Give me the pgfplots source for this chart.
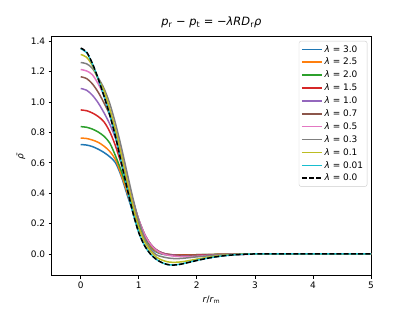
\documentclass[border=0pt]{standalone}
\usepackage{pgfplots}
\pgfplotsset{compat=1.18}
\usepackage{fontspec}
\setmainfont{DejaVu Sans}
\definecolor{c0}{HTML}{1F77B4}
\definecolor{c1}{HTML}{FF7F0E}
\definecolor{c2}{HTML}{2CA02C}
\definecolor{c3}{HTML}{D62728}
\definecolor{c4}{HTML}{9467BD}
\definecolor{c5}{HTML}{8C564B}
\definecolor{c6}{HTML}{E377C2}
\definecolor{c7}{HTML}{7F7F7F}
\definecolor{c8}{HTML}{BCBD22}
\definecolor{c9}{HTML}{17BECF}
\begin{document}
\begin{tikzpicture}
\useasboundingbox (-51.7bp,-34.3bp) rectangle (361.3bp,275.7bp);
\begin{axis}[
  scale only axis, width=319.3bp, height=239bp,
  at={(0,0)}, anchor=south west,
  xmin=-0.5, xmax=5, ymin=-0.143, ymax=1.43,
  xtick={0,1,2,3,4,5},
  ytick={0,0.2,0.4,0.6,0.8,1.0,1.2,1.4},
  yticklabel style={/pgf/number format/.cd, fixed, fixed zerofill, precision=1},
  /pgf/number format/assume math mode=true,
  ticklabel style={font=\fontsize{9}{10}\selectfont},
  tick pos=left, tick align=outside, major tick length=3.1bp,
  every tick/.style={black, line width=0.7bp},
  axis line style={line width=0.7bp},
  title={\textit{p}\textsubscript{r} − \textit{p}\textsubscript{t} = −\textit{λRD}\textsubscript{r}\textit{ρ}},
  title style={at={(axis description cs:0.5,1)}, anchor=base, yshift=5.4bp, font=\fontsize{11.5}{13}\selectfont},
  xlabel={\textit{r}/\textit{r}\textsubscript{m}},
  xlabel style={at={(axis description cs:0.5,0)}, anchor=center, yshift=-24.5bp, font=\fontsize{9}{10}\selectfont},
  ylabel={\textit{ρ̄}},
  ylabel style={at={(axis description cs:0,0.5)}, anchor=center, yshift=30.7bp, font=\fontsize{9}{10}\selectfont},
  legend style={at={(1,1)}, anchor=north east, xshift=-3.7bp, yshift=-4.3bp,
    draw=black!20, rounded corners=2bp, fill=white,
    font=\fontsize{9}{10}\selectfont, row sep=0.6bp, inner sep=2bp},
  legend cell align=left,
  legend image code/.code={\draw[#1, line width=1.6bp] (0bp,0bp) -- (20bp,0bp);},
  every axis plot/.append style={line width=1.5bp, smooth},
]
\addplot[c0] coordinates {(0,0.72)(0.1,0.717)(0.2,0.707)(0.3,0.69)(0.4,0.668)(0.5,0.64)(0.6,0.60)(0.7,0.51)(0.8,0.39)(0.9,0.275)(1.0,0.17)(1.1,0.095)(1.2,0.043)(1.3,0.013)(1.4,-0.001)(1.5,-0.006)(1.6,-0.007)(1.7,-0.007)(1.8,-0.006)(1.9,-0.006)(2.0,-0.005)(2.2,-0.004)(2.4,-0.003)(2.6,-0.002)(2.8,-0.001)(3.0,0)(3.5,0)(4,0)(4.5,0)(5,0)};
\addlegendentry{\textit{λ} = 3.0}
\addplot[c1] coordinates {(0,0.763)(0.1,0.76)(0.2,0.75)(0.3,0.735)(0.4,0.71)(0.5,0.675)(0.6,0.62)(0.7,0.52)(0.8,0.405)(0.9,0.29)(1.0,0.185)(1.1,0.105)(1.2,0.05)(1.3,0.018)(1.4,0.002)(1.5,-0.004)(1.6,-0.006)(1.7,-0.006)(1.8,-0.006)(1.9,-0.006)(2.0,-0.005)(2.2,-0.004)(2.4,-0.003)(2.6,-0.002)(2.8,-0.001)(3.0,0)(3.5,0)(4,0)(4.5,0)(5,0)};
\addlegendentry{\textit{λ} = 2.5}
\addplot[c2] coordinates {(0,0.838)(0.1,0.834)(0.2,0.822)(0.3,0.803)(0.4,0.775)(0.5,0.73)(0.6,0.645)(0.7,0.545)(0.8,0.43)(0.9,0.31)(1.0,0.2)(1.1,0.115)(1.2,0.058)(1.3,0.023)(1.4,0.005)(1.5,-0.003)(1.6,-0.006)(1.7,-0.007)(1.8,-0.007)(1.9,-0.007)(2.0,-0.006)(2.2,-0.004)(2.4,-0.003)(2.6,-0.002)(2.8,-0.001)(3.0,0)(3.5,0)(4,0)(4.5,0)(5,0)};
\addlegendentry{\textit{λ} = 2.0}
\addplot[c3] coordinates {(0,0.948)(0.1,0.943)(0.2,0.928)(0.3,0.905)(0.4,0.87)(0.5,0.805)(0.6,0.71)(0.7,0.59)(0.8,0.46)(0.9,0.33)(1.0,0.215)(1.1,0.125)(1.2,0.065)(1.3,0.028)(1.4,0.008)(1.5,-0.002)(1.6,-0.006)(1.7,-0.008)(1.8,-0.008)(1.9,-0.008)(2.0,-0.007)(2.2,-0.005)(2.4,-0.003)(2.6,-0.002)(2.8,-0.001)(3.0,0)(3.5,0)(4,0)(4.5,0)(5,0)};
\addlegendentry{\textit{λ} = 1.5}
\addplot[c4] coordinates {(0,1.089)(0.1,1.078)(0.2,1.045)(0.3,0.995)(0.4,0.93)(0.5,0.855)(0.6,0.76)(0.7,0.645)(0.8,0.495)(0.9,0.35)(1.0,0.225)(1.1,0.13)(1.2,0.067)(1.3,0.028)(1.4,0.007)(1.5,-0.003)(1.6,-0.008)(1.7,-0.011)(1.8,-0.012)(1.9,-0.011)(2.0,-0.01)(2.2,-0.008)(2.4,-0.005)(2.6,-0.003)(2.8,-0.002)(3.0,-0.001)(3.5,0)(4,0)(4.5,0)(5,0)};
\addlegendentry{\textit{λ} = 1.0}
\addplot[c5] coordinates {(0,1.166)(0.1,1.155)(0.2,1.12)(0.3,1.065)(0.4,0.995)(0.5,0.915)(0.6,0.805)(0.7,0.66)(0.8,0.50)(0.9,0.35)(1.0,0.225)(1.1,0.13)(1.2,0.066)(1.3,0.027)(1.4,0.006)(1.5,-0.005)(1.6,-0.01)(1.7,-0.013)(1.8,-0.014)(1.9,-0.013)(2.0,-0.012)(2.2,-0.009)(2.4,-0.006)(2.6,-0.004)(2.8,-0.002)(3.0,-0.001)(3.5,0)(4,0)(4.5,0)(5,0)};
\addlegendentry{\textit{λ} = 0.7}
\addplot[c6] coordinates {(0,1.214)(0.1,1.205)(0.2,1.18)(0.3,1.12)(0.4,1.045)(0.5,0.95)(0.6,0.815)(0.7,0.665)(0.8,0.50)(0.9,0.35)(1.0,0.225)(1.1,0.13)(1.2,0.065)(1.3,0.025)(1.4,0.003)(1.5,-0.008)(1.6,-0.014)(1.7,-0.017)(1.8,-0.018)(1.9,-0.017)(2.0,-0.015)(2.2,-0.011)(2.4,-0.008)(2.6,-0.005)(2.8,-0.003)(3.0,-0.001)(3.5,0)(4,0)(4.5,0)(5,0)};
\addlegendentry{\textit{λ} = 0.5}
\addplot[c7] coordinates {(0,1.26)(0.1,1.252)(0.2,1.222)(0.3,1.16)(0.4,1.09)(0.5,0.99)(0.6,0.857)(0.7,0.702)(0.8,0.532)(0.9,0.366)(1.0,0.218)(1.1,0.106)(1.2,0.033)(1.3,-0.005)(1.4,-0.018)(1.5,-0.026)(1.6,-0.03)(1.7,-0.03)(1.8,-0.027)(1.9,-0.023)(2.0,-0.019)(2.2,-0.012)(2.4,-0.007)(2.6,-0.003)(2.8,-0.001)(3.0,0)(3.5,0)(4,0)(4.5,0)(5,0)};
\addlegendentry{\textit{λ} = 0.3}
\addplot[c8] coordinates {(0,1.313)(0.1,1.295)(0.2,1.24)(0.3,1.15)(0.4,1.075)(0.5,0.953)(0.6,0.815)(0.7,0.652)(0.8,0.482)(0.9,0.318)(1.0,0.175)(1.1,0.08)(1.2,0.02)(1.3,-0.02)(1.4,-0.04)(1.5,-0.052)(1.6,-0.055)(1.7,-0.053)(1.8,-0.048)(1.9,-0.041)(2.0,-0.034)(2.2,-0.021)(2.4,-0.011)(2.6,-0.005)(2.8,-0.001)(3.0,0)(3.5,0)(4,0)(4.5,0)(5,0)};
\addlegendentry{\textit{λ} = 0.1}
\addplot[c9] coordinates {(0,1.35)(0.1,1.326)(0.2,1.252)(0.3,1.153)(0.4,1.039)(0.5,0.915)(0.6,0.77)(0.7,0.60)(0.8,0.43)(0.9,0.27)(1.0,0.14)(1.1,0.055)(1.2,0.0)(1.3,-0.035)(1.4,-0.057)(1.5,-0.07)(1.6,-0.072)(1.7,-0.068)(1.8,-0.06)(1.9,-0.051)(2.0,-0.042)(2.2,-0.027)(2.4,-0.015)(2.6,-0.007)(2.8,-0.002)(3.0,0)(3.5,0)(4,0)(4.5,0)(5,0)};
\addlegendentry{\textit{λ} = 0.01}
\addplot[black, dash pattern=on 5bp off 2.2bp] coordinates {(0,1.355)(0.1,1.33)(0.2,1.255)(0.3,1.155)(0.4,1.04)(0.5,0.915)(0.6,0.77)(0.7,0.60)(0.8,0.43)(0.9,0.27)(1.0,0.14)(1.1,0.055)(1.2,0.0)(1.3,-0.035)(1.4,-0.057)(1.5,-0.07)(1.6,-0.073)(1.7,-0.069)(1.8,-0.061)(1.9,-0.052)(2.0,-0.043)(2.2,-0.027)(2.4,-0.015)(2.6,-0.007)(2.8,-0.002)(3.0,0)(3.5,0)(4,0)(4.5,0)(5,0)};
\addlegendentry{\textit{λ} = 0.0}
\end{axis}
\end{tikzpicture}
\end{document}
